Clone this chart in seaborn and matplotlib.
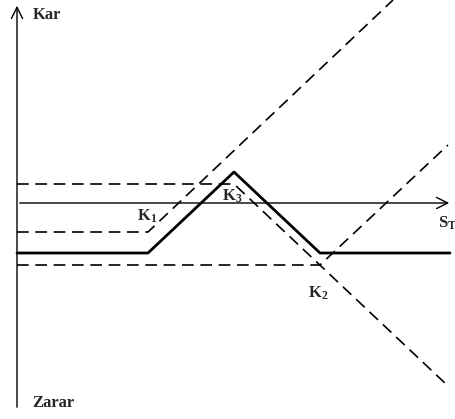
import numpy as np
import matplotlib.pyplot as plt
import seaborn as sns
import pandas as pd

# vertices (S, profit)
net_S = [0, 131, 217, 303, 433]
net_P = [-50, -50, 31, -50, -50]

callK1_S = [0, 131, 376]
callK1_P = [-29, -29, 203]

callK3_S = [0, 217, 430]
callK3_P = [19, 19, -182]

callK2_S = [0, 303, 431]
callK2_P = [-62, -62, 58]

sns.set_style('white')
plt.rcParams['font.family'] = ['Liberation Serif', 'DejaVu Serif']
plt.rcParams['mathtext.fontset'] = 'custom'
plt.rcParams['mathtext.rm'] = 'Liberation Serif:bold'
plt.rcParams['mathtext.bf'] = 'Liberation Serif:bold'
plt.rcParams['mathtext.it'] = 'Liberation Serif:bold'
plt.rcParams['mathtext.default'] = 'bf'

fig = plt.figure(figsize=(4.56, 4.19), dpi=100)
ax = fig.add_axes([0, 0, 1, 1])

for S, P in [(callK1_S, callK1_P), (callK3_S, callK3_P), (callK2_S, callK2_P)]:
    df = pd.DataFrame({'S': S, 'P': P})
    sns.lineplot(data=df, x='S', y='P', sort=False, ax=ax, color='black',
                 lw=1.2, linestyle=(0, (7, 4)))

df = pd.DataFrame({'S': net_S, 'P': net_P})
sns.lineplot(data=df, x='S', y='P', sort=False, ax=ax, color='black', lw=2)

# axes with arrows
ax.annotate('', xy=(0, 200), xytext=(0, -207),
            arrowprops=dict(arrowstyle='->,head_length=0.8,head_width=0.4', lw=1, color='black'))
ax.annotate('', xy=(435, 0), xytext=(0, 0),
            arrowprops=dict(arrowstyle='->,head_length=0.8,head_width=0.4', lw=1, color='black'))

ax.text(16, 188, 'Kar', fontsize=12, fontweight='bold', va='center')
ax.text(15, -200, 'Zarar', fontsize=12, fontweight='bold', va='center')
ax.text(421, -20, r'S$_T$', fontsize=12, fontweight='bold', va='center')
ax.text(120, -13, r'K$_1$', fontsize=12, fontweight='bold', va='center')
ax.text(205, 7, r'K$_3$', fontsize=12, fontweight='bold', va='center')
ax.text(291, -90, r'K$_2$', fontsize=12, fontweight='bold', va='center')

ax.set_xlim(-17, 439)
ax.set_ylim(-216, 203)
ax.axis('off')
fig.savefig('out.png', dpi=100)
